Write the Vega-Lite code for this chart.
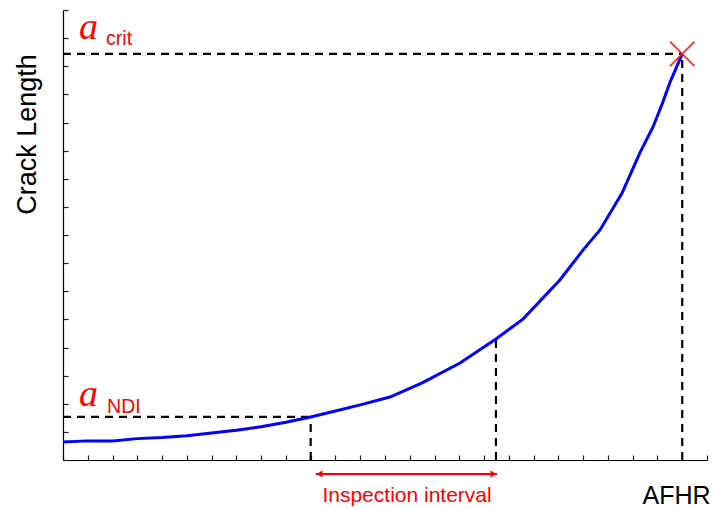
{
  "$schema": "https://vega.github.io/schema/vega-lite/v6.json",
  "width": 644,
  "height": 450,
  "autosize": {"type": "none"},
  "padding": {"left": 63, "top": 10, "right": 6, "bottom": 49},
  "background": "white",
  "config": {
    "view": {"stroke": null},
    "font": "Liberation Sans",
    "axis": {"grid": false, "labels": false, "domainColor": "#000000", "domainWidth": 1.2, "tickColor": "#222222", "tickSize": -5, "tickWidth": 1.2, "tickRound": true}
  },
  "datasets": {
    "curve": [
      {"afhr": 0, "crack": 0.64},
      {"afhr": 1, "crack": 0.68},
      {"afhr": 2, "crack": 0.68},
      {"afhr": 3, "crack": 0.76},
      {"afhr": 4, "crack": 0.80},
      {"afhr": 5, "crack": 0.86},
      {"afhr": 6, "crack": 0.96},
      {"afhr": 7, "crack": 1.06},
      {"afhr": 8, "crack": 1.18},
      {"afhr": 9, "crack": 1.34},
      {"afhr": 10, "crack": 1.53},
      {"afhr": 11, "crack": 1.74},
      {"afhr": 12, "crack": 1.96},
      {"afhr": 13.2, "crack": 2.24},
      {"afhr": 14.5, "crack": 2.74},
      {"afhr": 16.03, "crack": 3.45},
      {"afhr": 17.48, "crack": 4.30},
      {"afhr": 18.57, "crack": 5.01},
      {"afhr": 20.06, "crack": 6.40},
      {"afhr": 21.0, "crack": 7.47},
      {"afhr": 21.68, "crack": 8.18},
      {"afhr": 22.57, "crack": 9.49},
      {"afhr": 23.29, "crack": 10.92},
      {"afhr": 23.82, "crack": 11.84},
      {"afhr": 24.22, "crack": 12.73},
      {"afhr": 24.51, "crack": 13.44},
      {"afhr": 25.0, "crack": 14.44}
    ],
    "guides": [
      {"x": 0, "x2": 10, "y": 1.53, "y2": 1.53},
      {"x": 10, "x2": 10, "y": 0, "y2": 1.53},
      {"x": 17.48, "x2": 17.48, "y": 0, "y2": 4.30},
      {"x": 0, "x2": 25, "y": 14.44, "y2": 14.44},
      {"x": 25, "x2": 25, "y": 0, "y2": 14.44}
    ],
    "symbolA": [
      {"x": 1.03, "y": 14.97, "label": "a"},
      {"x": 1.03, "y": 1.92, "label": "a"}
    ],
    "subscripts": [
      {"x": 1.74, "y": 14.76, "label": "crit"},
      {"x": 1.78, "y": 1.67, "label": "NDI"}
    ],
    "interval": [
      {"start": 10.21, "end": 17.52, "y": -0.5}
    ],
    "heads": [
      {"x": 10.35, "y": -0.5, "dir": "left"},
      {"x": 17.38, "y": -0.5, "dir": "right"}
    ],
    "intervalLabel": [
      {"x": 13.89, "y": -1.5, "label": "Inspection interval"}
    ],
    "failure": [
      {"x": 25, "y": 14.44}
    ]
  },
  "layer": [
    {
      "data": {"name": "guides"},
      "mark": {"type": "rule", "color": "#000000", "strokeWidth": 2.2, "strokeDash": [8, 6]},
      "encoding": {
        "x": {"field": "x", "type": "quantitative", "scale": {"domain": [0, 26], "nice": false, "zero": false},
          "axis": {"values": [0,1,2,3,4,5,6,7,8,9,10,11,12,13,14,15,16,17,18,19,20,21,22,23,24,25,26], "labelOverlap": false, "tickCount": 60, "title": "AFHR", "titleX": 613, "titleY": 43, "titleAlign": "center", "titleBaseline": "alphabetic", "titleFontSize": 25, "titleFontWeight": "normal", "titleColor": "#000000", "titleFont": "Liberation Sans"}},
        "x2": {"field": "x2"},
        "y": {"field": "y", "type": "quantitative", "scale": {"domain": [0, 16], "nice": false, "zero": false},
          "axis": {"values": [0,1,2,3,4,5,6,7,8,9,10,11,12,13,14,15,16], "labelOverlap": false, "tickCount": 40, "title": "Crack Length", "titleX": -28, "titleY": 124, "titleAngle": 270, "titleAlign": "center", "titleBaseline": "alphabetic", "titleFontSize": 27, "titleFontWeight": "normal", "titleColor": "#000000", "titleFont": "Liberation Sans"}},
        "y2": {"field": "y2"}
      }
    },
    {
      "data": {"name": "curve"},
      "mark": {"type": "line", "color": "#0000ff", "strokeWidth": 3, "interpolate": "linear"},
      "encoding": {
        "x": {"field": "afhr", "type": "quantitative"},
        "y": {"field": "crack", "type": "quantitative"}
      }
    },
    {
      "data": {"name": "failure"},
      "mark": {"type": "point", "shape": "M-1,-1L1,1M1,-1L-1,1", "filled": false, "color": "#ff2020", "strokeWidth": 1.5, "size": 600, "opacity": 1},
      "encoding": {
        "x": {"field": "x", "type": "quantitative"},
        "y": {"field": "y", "type": "quantitative"}
      }
    },
    {
      "data": {"name": "symbolA"},
      "mark": {"type": "text", "font": "Liberation Serif", "fontStyle": "italic", "fontSize": 38, "color": "#ff0000", "align": "center", "baseline": "alphabetic"},
      "encoding": {
        "x": {"field": "x", "type": "quantitative"},
        "y": {"field": "y", "type": "quantitative"},
        "text": {"field": "label"}
      }
    },
    {
      "data": {"name": "subscripts"},
      "mark": {"type": "text", "font": "Liberation Sans", "fontSize": 19.5, "color": "#ff0000", "align": "left", "baseline": "alphabetic"},
      "encoding": {
        "x": {"field": "x", "type": "quantitative"},
        "y": {"field": "y", "type": "quantitative"},
        "text": {"field": "label"}
      }
    },
    {
      "data": {"name": "interval"},
      "mark": {"type": "rule", "color": "#ff0000", "strokeWidth": 2},
      "encoding": {
        "x": {"field": "start", "type": "quantitative"},
        "x2": {"field": "end"},
        "y": {"field": "y", "type": "quantitative"}
      }
    },
    {
      "data": {"name": "heads"},
      "mark": {"type": "point", "filled": true, "color": "#ff0000", "size": 50, "opacity": 1},
      "encoding": {
        "x": {"field": "x", "type": "quantitative"},
        "y": {"field": "y", "type": "quantitative"},
        "shape": {"field": "dir", "type": "nominal", "scale": {"domain": ["left", "right"], "range": ["triangle-left", "triangle-right"]}, "legend": null}
      }
    },
    {
      "data": {"name": "intervalLabel"},
      "mark": {"type": "text", "font": "Liberation Sans", "fontSize": 21, "color": "#ff0000", "align": "center", "baseline": "alphabetic"},
      "encoding": {
        "x": {"field": "x", "type": "quantitative"},
        "y": {"field": "y", "type": "quantitative"},
        "text": {"field": "label"}
      }
    }
  ]
}
